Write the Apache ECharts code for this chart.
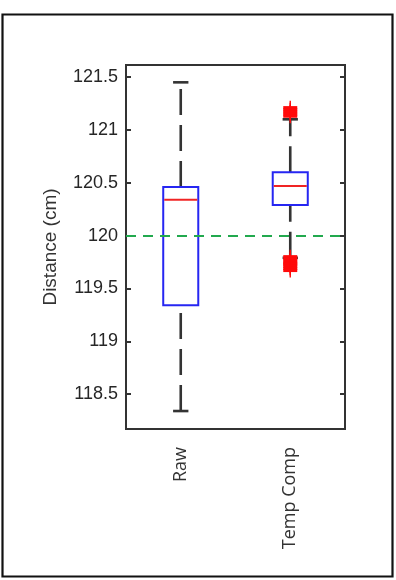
<!DOCTYPE html>
<html>
<head>
<meta charset="utf-8">
<script src="https://cdn.jsdelivr.net/npm/echarts@6/dist/echarts.min.js"></script>
<style>
html,body{margin:0;padding:0;background:#fff;}
#chart{width:396px;height:580px;}
</style>
</head>
<body>
<div id="chart"></div>
<script>
// ---- data ----
const categories = ['Raw', 'Temp Comp'];
const whiskerLow = [118.34, 119.79];
const quartile1 = [119.34, 120.29];
const medians = [120.34, 120.47];
const quartile3 = [120.46, 120.60];
const whiskerHigh = [121.45, 121.10];
// outliers: [category index, value]
const outliers = [
  [1, 121.21], [1, 121.19], [1, 121.17], [1, 121.15], [1, 121.13],
  [1, 119.80], [1, 119.78], [1, 119.76], [1, 119.74], [1, 119.73],
  [1, 119.71], [1, 119.69], [1, 119.67]
];
const referenceValue = 120;
const yTickValues = [118.5, 119, 119.5, 120, 120.5, 121, 121.5];
const yMin = 118.17;
const yMax = 121.614;

// ---- build ----
const boxData = categories.map((c, i) => [i, whiskerLow[i], quartile1[i], medians[i], quartile3[i], whiskerHigh[i]]);

function renderBox(params, api) {
  const x = api.value(0);
  const mn = api.value(1), q1 = api.value(2), md = api.value(3), q3 = api.value(4), mx = api.value(5);
  const band = api.size([1, 0])[0];
  const bw = band * 0.32;
  const cw = band * 0.14;
  const pMin = api.coord([x, mn]), pQ1 = api.coord([x, q1]), pMd = api.coord([x, md]);
  const pQ3 = api.coord([x, q3]), pMx = api.coord([x, mx]);
  const cx = pMd[0];
  const wStyle = { stroke: '#333', lineWidth: 2.6, lineDash: [26, 10] };
  const cStyle = { stroke: '#333', lineWidth: 2.6 };
  return {
    type: 'group',
    children: [
      { type: 'line', shape: { x1: cx, y1: pQ3[1], x2: cx, y2: pMx[1] }, style: wStyle },
      { type: 'line', shape: { x1: cx, y1: pMin[1], x2: cx, y2: pQ1[1] }, style: wStyle },
      { type: 'line', shape: { x1: cx - cw / 2, y1: pMx[1], x2: cx + cw / 2, y2: pMx[1] }, style: cStyle },
      { type: 'line', shape: { x1: cx - cw / 2, y1: pMin[1], x2: cx + cw / 2, y2: pMin[1] }, style: cStyle },
      { type: 'rect', shape: { x: cx - bw / 2, y: pQ3[1], width: bw, height: pQ1[1] - pQ3[1] },
        style: { fill: 'none', stroke: '#2626f2', lineWidth: 2 } },
      { type: 'line', shape: { x1: cx - bw / 2 + 1, y1: pMd[1], x2: cx + bw / 2 - 1, y2: pMd[1] },
        style: { stroke: '#f02424', lineWidth: 2 } }
    ]
  };
}

function renderOutlier(params, api) {
  const p = api.coord([api.value(0), api.value(1)]);
  const s = 7;
  return {
    type: 'group',
    children: [
      { type: 'line', shape: { x1: p[0] - s, y1: p[1], x2: p[0] + s, y2: p[1] }, style: { stroke: '#ff0a0a', lineWidth: 3.2 } },
      { type: 'line', shape: { x1: p[0], y1: p[1] - s, x2: p[0], y2: p[1] + s }, style: { stroke: '#ff0a0a', lineWidth: 1.4 } }
    ]
  };
}

const chart = echarts.init(document.getElementById('chart'), null, { renderer: 'canvas' });
chart.setOption({
  backgroundColor: '#fff',
  animation: false,
  graphic: [{
    type: 'rect', shape: { x: 2.5, y: 14.5, width: 390, height: 562 },
    style: { fill: 'none', stroke: '#111', lineWidth: 2.2 }, silent: true
  }],
  grid: { left: 126, top: 65, right: 51, bottom: 151, show: true, borderColor: '#333', borderWidth: 2, backgroundColor: 'transparent' },
  xAxis: {
    type: 'category', data: categories, boundaryGap: true,
    axisLine: { show: true, lineStyle: { color: '#333', width: 2 } },
    axisTick: { show: false },
    axisLabel: { rotate: 90, margin: 18, fontFamily: 'Open Sans', fontSize: 18, color: '#333' },
    splitLine: { show: false }
  },
  yAxis: [{
    type: 'value', min: yMin, max: yMax, position: 'left',
    name: 'Distance (cm)', nameLocation: 'middle', nameRotate: 90, nameGap: 66,
    nameTextStyle: { fontFamily: 'Liberation Sans', fontSize: 19, color: '#333' },
    axisLine: { show: true, lineStyle: { color: '#333', width: 2 } },
    axisTick: { show: true, inside: true, length: 5, customValues: yTickValues, lineStyle: { color: '#333', width: 2 } },
    axisLabel: { customValues: yTickValues, fontFamily: 'Liberation Sans', fontSize: 18, color: '#262626', margin: 8,
      formatter: v => String(v) },
    splitLine: { show: false }
  }, {
    type: 'value', min: yMin, max: yMax, position: 'right',
    axisLine: { show: true, lineStyle: { color: '#333', width: 2 } },
    axisTick: { show: true, inside: true, length: 5, customValues: yTickValues, lineStyle: { color: '#333', width: 2 } },
    axisLabel: { show: false },
    splitLine: { show: false }
  }],
  series: [{
    type: 'custom', name: 'reference', data: [],
    markLine: {
      silent: true, symbol: ['none', 'none'], label: { show: false },
      lineStyle: { color: '#22a94e', width: 2, type: [10, 7] },
      data: [{ yAxis: referenceValue }]
    },
    renderItem: () => null
  }, {
    type: 'custom', name: 'box', data: boxData, renderItem: renderBox,
    encode: { x: 0, y: [1, 2, 3, 4, 5] }, z: 3
  }, {
    type: 'custom', name: 'outliers', data: outliers, renderItem: renderOutlier,
    encode: { x: 0, y: 1 }, z: 4
  }]
});
</script>
</body>
</html>
